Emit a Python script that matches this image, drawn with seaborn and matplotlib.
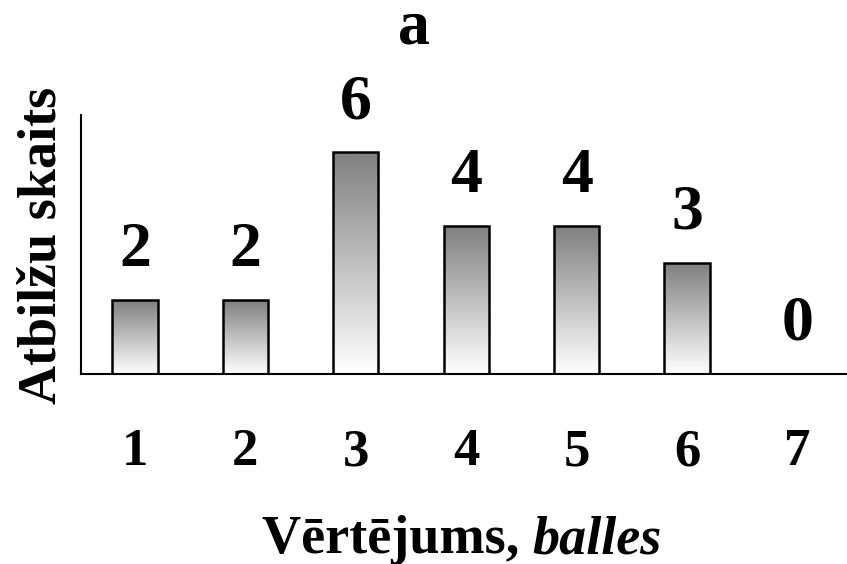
import numpy as np
import matplotlib
matplotlib.use("Agg")
import matplotlib.pyplot as plt
import seaborn as sns
import pandas as pd

# data
scores = ["1", "2", "3", "4", "5", "6", "7"]
counts = [2, 2, 6, 4, 4, 3, 0]
title = "a"
ylabel = "Atbilžu skaits"
xlabel_main = "Vērtējums, "
xlabel_unit = "balles"

sns.set_theme(style="white")
plt.rcParams["font.family"] = ["Liberation Serif", "DejaVu Serif"]
plt.rcParams["font.weight"] = "bold"
plt.rcParams["text.color"] = "black"
plt.rcParams["xtick.color"] = "black"
plt.rcParams["axes.labelcolor"] = "black"

df = pd.DataFrame({"score": scores, "count": counts})

fig = plt.figure(figsize=(8.47, 5.64), dpi=100)
ax = fig.add_axes([0.0956, 0.337, 0.9044, 0.459])

sns.barplot(data=df, x="score", y="count", width=0.41, color="white",
            edgecolor="black", linewidth=1.8, ax=ax, zorder=3)

# vertical gray (top) to white (bottom) gradient inside each bar
grad = np.linspace(1.0, 0.5, 256).reshape(-1, 1)
for p in ax.patches:
    x0, w, h = p.get_x(), p.get_width(), p.get_height()
    if h <= 0:
        p.set_visible(False)
        continue
    p.set_facecolor("none")
    im = ax.imshow(grad, extent=[x0, x0 + w, 0, h], origin="lower", cmap="gray",
                   vmin=0, vmax=1, aspect="auto", zorder=2)
    im.set_clip_path(p)

ax.set_xlim(-0.49, 6.45)
ax.set_ylim(0, 7)

for i, v in enumerate(counts):
    ax.annotate(str(v), (i, v), xytext=(0, 24.5), textcoords="offset points",
                ha="center", va="baseline", fontsize=46, fontweight="bold",
                color="black")

sns.despine(ax=ax, top=True, right=True)
for s in ["left", "bottom"]:
    ax.spines[s].set_color("black")
    ax.spines[s].set_linewidth(1.5)
ax.set_yticks([])
ax.tick_params(axis="x", length=0, pad=39, labelsize=38, labelcolor="black")
for lab in ax.get_xticklabels():
    lab.set_fontweight("bold")
ax.set_xlabel("")
ax.set_ylabel("")

fig.text(414 / 847, 1 - 43 / 564, title, ha="center", va="baseline",
         fontsize=46, fontweight="bold", color="black")
fig.text(42 / 847, 1 - 245 / 564, ylabel, rotation=90, ha="center", va="center",
         fontsize=39, fontweight="bold", color="black")

# x label: bold part + bold italic unit, centred together
fig.canvas.draw()
r = fig.canvas.get_renderer()
y_lab = 1 - 553 / 564
t1 = fig.text(0, y_lab, xlabel_main, ha="left", va="baseline", fontsize=39,
              fontweight="bold", color="black")
t2 = fig.text(0, y_lab, xlabel_unit, ha="left", va="baseline", fontsize=39,
              fontweight="bold", style="italic", color="black")
w1 = t1.get_window_extent(r).width
w2 = t2.get_window_extent(r).width
start = 462 - (w1 + w2) / 2
t1.set_x(start / 847)
t2.set_x((start + w1) / 847)

fig.savefig("out.png", dpi=100)
